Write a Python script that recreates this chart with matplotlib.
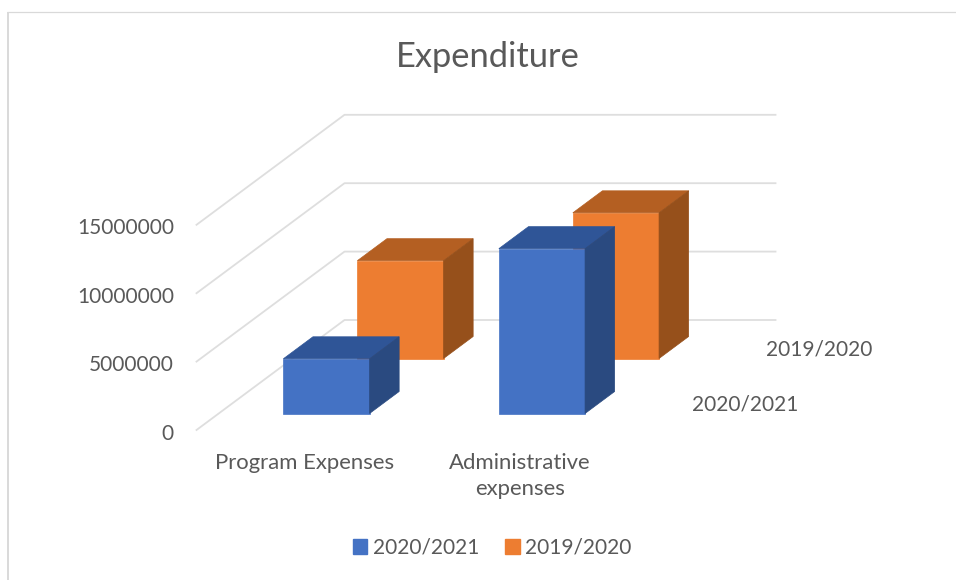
import matplotlib
matplotlib.use('Agg')
import matplotlib.pyplot as plt
from matplotlib.patches import Polygon, Patch

plt.rcParams['font.family'] = ['Lato', 'DejaVu Sans']

# Datos
categories = ['Program Expenses', 'Administrative\nexpenses']
series_names = ['2020/2021', '2019/2020']
values_2021 = [4000000, 12050000]
values_2020 = [7150000, 10650000]
y_ticks = [0, 5000000, 10000000, 15000000]

colors = {'2020/2021': ('#4472C4', '#2F5597', '#2A4A80'),
          '2019/2020': ('#ED7D31', '#B45F22', '#96501B')}
text_color = '#595959'
grid_color = '#DEDEDE'

# Proyeccion oblicua del grafico 3D a pixeles
x0, y0 = 196.5, 430
cat_w = 215.5
px_per_unit = 68.4 / 5000000
depth_dx, depth_dy = 74, -55


def project(cat, val, depth):
    return (x0 + cat * cat_w + depth * depth_dx,
            y0 - val * px_per_unit + depth * depth_dy)


def draw_bar(ax, i, row, val, name):
    front, top, side = colors[name]
    a, b = i + 0.3, i + 0.7
    d0, d1 = row + 0.3, row + 0.7
    z = 3 + (2 - row)
    ax.add_patch(Polygon([project(a, 0, d0), project(b, 0, d0), project(b, val, d0), project(a, val, d0)],
                         fc=front, ec=front, lw=0.5, zorder=z))
    ax.add_patch(Polygon([project(a, val, d0), project(b, val, d0), project(b, val, d1), project(a, val, d1)],
                         fc=top, ec=top, lw=0.5, zorder=z))
    ax.add_patch(Polygon([project(b, 0, d0), project(b, 0, d1), project(b, val, d1), project(b, val, d0)],
                         fc=side, ec=side, lw=0.5, zorder=z))


fig = plt.figure(figsize=(9.56, 5.8), dpi=100)
ax = fig.add_axes([0, 0, 1, 1])
ax.set_xlim(0, 956)
ax.set_ylim(580, 0)
ax.axis('off')

# Borde del grafico
ax.plot([8, 8], [580, 11.5], color='#D9D9D9', lw=1.4, zorder=1, solid_capstyle='butt')
ax.plot([7, 956], [11.5, 11.5], color='#D9D9D9', lw=0.9, zorder=1, solid_capstyle='butt')

# Rejilla
for t in y_ticks:
    pts = [project(0, t, 0), project(0, t, 2), project(2, t, 2)]
    ax.plot([p[0] for p in pts], [p[1] for p in pts], color=grid_color, lw=1.3, zorder=2)
    ax.text(174, project(0, t, 0)[1] + 3.5, str(t), ha='right', va='center', fontsize=15, color=text_color)

# Barras, de atras hacia delante
for i in [1, 0]:
    draw_bar(ax, i, 1, values_2020[i], series_names[1])
for i in [0, 1]:
    draw_bar(ax, i, 0, values_2021[i], series_names[0])

# Etiquetas de categorias
for i, c in enumerate(categories):
    ax.text(project(i + 0.5, 0, 0)[0], 453, c, ha='center', va='top', fontsize=15.9,
            color=text_color, linespacing=1.38)

# Etiquetas de la serie (eje de profundidad)
ax.text(745.5, 404.5, series_names[0], ha='center', va='center', fontsize=15, color=text_color)
ax.text(819.5, 349.5, series_names[1], ha='center', va='center', fontsize=15, color=text_color)

ax.text(488, 57, 'Expenditure', ha='center', va='center', fontsize=24.8, color=text_color)

handles = [Patch(color=colors[n][0], label=n) for n in series_names]
ax.legend(handles=handles, loc='center', bbox_to_anchor=(492, 548), bbox_transform=ax.transData,
          ncol=2, frameon=False, fontsize=15, labelcolor=text_color, handlelength=0.7,
          handleheight=0.7, handletextpad=0.25, columnspacing=1.25)

plt.savefig('out.png', dpi=100)
